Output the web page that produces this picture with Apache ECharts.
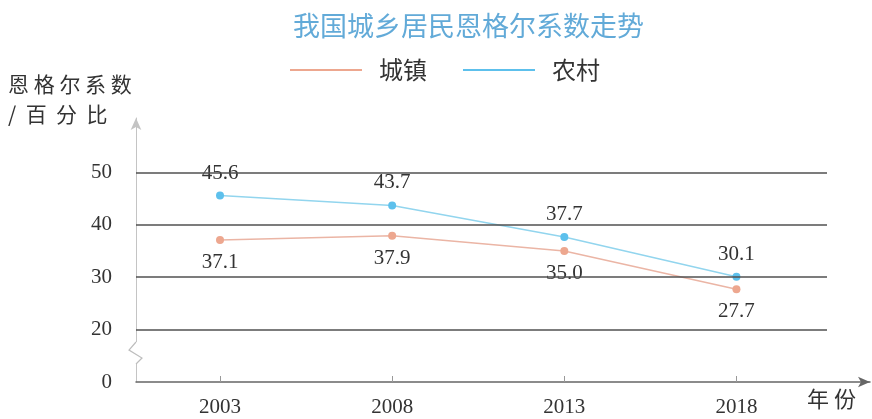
<!DOCTYPE html>
<html>
<head>
<meta charset="utf-8">
<script src="https://cdn.jsdelivr.net/npm/echarts@6/dist/echarts.min.js"></script>
<style>
html,body{margin:0;padding:0;background:#fff;}
#c{width:872px;height:419px;}
</style>
</head>
<body>
<div id="c"></div>
<script>
// ---- data ----
var years = [2003, 2008, 2013, 2018];
var urban = [37.1, 37.9, 35.0, 27.7];   // 城镇
var rural = [45.6, 43.7, 37.7, 30.1];   // 农村
var yTicks = [10, 20, 30, 40, 50];      // 10 is drawn as the (broken) zero line
var yTickLabels = ['0', '20', '30', '40', '50'];
var gridLines = [20, 30, 40, 50];

var serif = '"Liberation Serif","DejaVu Serif",serif';
var cjk = '"Noto Sans CJK SC","Noto Sans",sans-serif';

function pairs(vals) { return years.map(function (y, i) { return [y, vals[i]]; }); }

var chart = echarts.init(document.getElementById('c'), null, {renderer: 'canvas'});
chart.setOption({
  backgroundColor: '#fff',
  animation: false,
  title: {
    text: '我国城乡居民恩格尔系数走势',
    left: 288, top: 7,
    textStyle: {color: '#62aad8', fontSize: 27, fontWeight: 'normal', fontFamily: cjk}
  },
  legend: {
    top: 53, left: 285,
    itemWidth: 72, itemHeight: 2, itemGap: 36, icon: 'rect',
    textStyle: {color: '#333', fontSize: 24, fontFamily: cjk, padding: [0, 0, 0, 12]},
    data: ['城镇', '农村']
  },
  grid: [
    {left: 136, right: 45, top: 118, bottom: 37},
    {left: 136, right: 2, top: 118, bottom: 37}
  ],
  xAxis: [
    {
      type: 'value', gridIndex: 0,
      min: 2000.56, max: 2020.63,
      axisLine: {show: false},
      splitLine: {show: false},
      axisTick: {show: true, inside: true, length: 6, customValues: years, lineStyle: {color: '#999'}},
      axisLabel: {customValues: years, margin: 15, color: '#333', fontSize: 21, fontFamily: serif,
        formatter: function (v) { return String(v); }}
    },
    {
      type: 'value', gridIndex: 1, min: 0, max: 1,
      axisLine: {show: true, symbol: ['none', 'arrow'], symbolSize: [8, 12], lineStyle: {color: '#666', width: 1.5}},
      axisTick: {show: false}, axisLabel: {show: false}, splitLine: {show: false}
    }
  ],
  yAxis: [
    {
      type: 'value', gridIndex: 0,
      min: 10, max: 60.4, interval: 10,
      axisLine: {show: true, symbol: ['none', 'arrow'], symbolSize: [8, 12], lineStyle: {color: '#c4c4c4', width: 1}},
      axisTick: {show: false},
      splitLine: {show: false},
      axisLabel: {customValues: yTicks, margin: 24, color: '#333', fontSize: 21, fontFamily: serif,
        formatter: function (v) { var i = yTicks.indexOf(v); return i >= 0 ? yTickLabels[i] : ''; }}
    },
    {
      type: 'value', gridIndex: 1, min: 0, max: 1, show: false
    }
  ],
  graphic: [
    {type: 'text', left: 8, top: 74, style: {text: '恩 格 尔 系 数', font: '21px ' + cjk, fill: '#333'}},
    {type: 'text', left: 8, top: 104, style: {text: '/  百  分  比', font: '21px ' + cjk, fill: '#333'}},
    {type: 'text', left: 807, top: 388, style: {text: '年 份', font: '22px ' + cjk, fill: '#333'}},
    {type: 'rect', shape: {x: 133, y: 342, width: 6, height: 22}, style: {fill: '#fff'}, z: 100},
    {type: 'polyline', shape: {points: [[136, 342], [129, 350], [142, 358], [136, 364]]},
      style: {stroke: '#bdbdbd', lineWidth: 1.2, fill: null}, z: 101}
  ],
  series: [
    {
      name: '城镇', type: 'line', xAxisIndex: 0, yAxisIndex: 0,
      data: pairs(urban),
      symbol: 'circle', symbolSize: 8,
      itemStyle: {color: '#eda78f'},
      lineStyle: {color: '#ebb5a5', width: 1.5},
      label: {show: true, position: 'bottom', distance: 8, color: '#333', fontSize: 21, fontFamily: serif,
        formatter: function (p) { return p.value[1].toFixed(1); }},
      markLine: {
        silent: true, symbol: 'none',
        label: {show: false},
        lineStyle: {color: '#505050', width: 1.5, type: 'solid'},
        data: gridLines.map(function (v) { return {yAxis: v}; })
      },
      z: 3
    },
    {
      name: '农村', type: 'line', xAxisIndex: 0, yAxisIndex: 0,
      data: pairs(rural),
      symbol: 'circle', symbolSize: 8,
      itemStyle: {color: '#5dc0ec'},
      lineStyle: {color: '#92d5ee', width: 1.5},
      label: {show: true, position: 'top', distance: 8, color: '#333', fontSize: 21, fontFamily: serif,
        formatter: function (p) { return p.value[1].toFixed(1); }},
      z: 4
    }
  ]
});
</script>
</body>
</html>
